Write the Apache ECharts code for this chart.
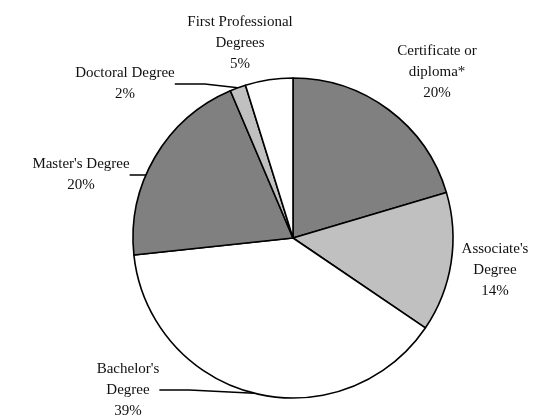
<!DOCTYPE html>
<html>
<head>
<meta charset="utf-8" />
<title>Degrees</title>
<script src="https://cdn.jsdelivr.net/npm/echarts@6/dist/echarts.min.js"></script>
<style>
  html, body { margin: 0; padding: 0; background: #fff; }
  #chart { width: 533px; height: 417px; }
</style>
</head>
<body>
<div id="chart"></div>
<script>
// categories, clockwise from 12 o'clock
var categories = ['Certificate or\ndiploma*', "Associate's\nDegree", "Bachelor's\nDegree",
                  "Master's Degree", 'Doctoral Degree', 'First Professional\nDegrees'];
// share of degrees
var shares = [20.4, 14.1, 38.8, 20.3, 1.6, 4.8];

var fills = ['#808080', '#c0c0c0', '#ffffff', '#808080', '#c0c0c0', '#ffffff'];
var hasLeader = [false, false, true, true, true, false];
// label block centres
var labelPos = [[437, 72], [495, 270], [128, 390], [81, 175], [125, 84], [240, 43]];

var chart = echarts.init(document.getElementById('chart'));

var seriesData = categories.map(function (c, i) {
    return {
        name: c,
        value: shares[i],
        itemStyle: { color: fills[i] },
        labelLine: { show: hasLeader[i] }
    };
});

chart.setOption({
    animation: false,
    series: [{
        type: 'pie',
        center: [293, 238],
        radius: 160,
        startAngle: 90,
        clockwise: true,
        percentPrecision: 0,
        itemStyle: { borderColor: '#000', borderWidth: 1.6 },
        emphasis: { disabled: true },
        label: {
            show: true,
            position: 'outside',
            formatter: '{b}\n{d}%',
            fontFamily: 'Liberation Serif',
            fontSize: 15,
            lineHeight: 21,
            color: '#111',
            align: 'center',
            overflow: 'none'
        },
        labelLine: {
            show: true,
            lineStyle: { color: '#000', width: 1.6 }
        },
        labelLayout: function (p) {
            var pos = labelPos[p.dataIndex];
            return { x: pos[0], y: pos[1], align: 'center', verticalAlign: 'middle' };
        },
        data: seriesData
    }]
});
</script>
</body>
</html>
